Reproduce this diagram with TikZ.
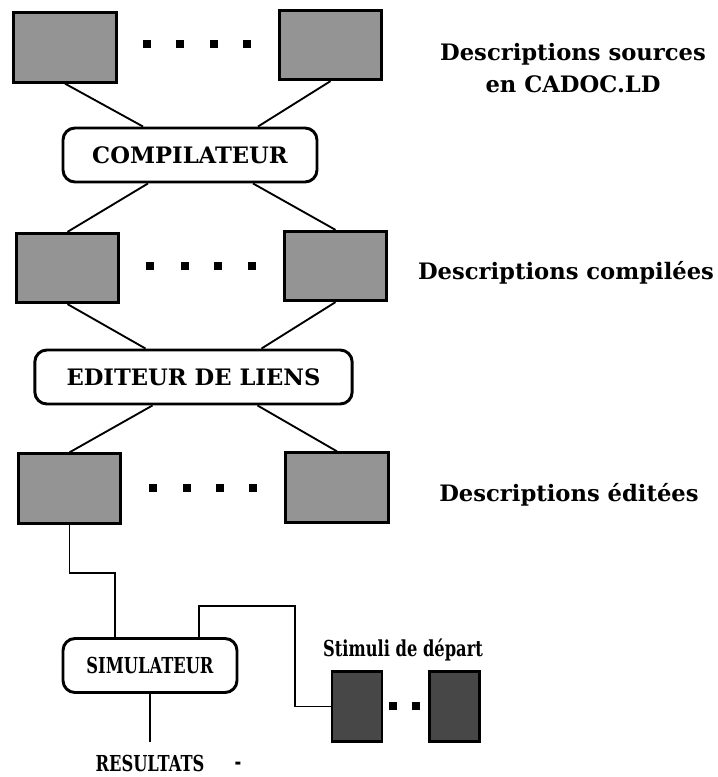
\documentclass[tikz,border=0pt]{standalone}
\usepackage{fontspec}
\setmainfont{DejaVu Serif}
\newfontfamily\narrowfont{DejaVu Serif}[FakeStretch=0.74]
\usetikzlibrary{calc}

\begin{document}
\begin{tikzpicture}[x=0.75pt, y=-0.75pt, line width=1.4pt,
  font=\fontsize{17}{24}\selectfont\bfseries,
  small/.style={font=\narrowfont\fontsize{16.5}{20}\selectfont\bfseries},
  descbox/.style={draw, line width=2.2pt, fill=black!42,
    minimum width=77pt, minimum height=52pt, inner sep=0pt},
  stimbox/.style={descbox, fill=black!72, minimum width=37.5pt},
  procbox/.style={draw, line width=2.2pt, fill=white, rounded corners=9pt,
    minimum height=40.5pt, inner sep=0pt},
  dotsq/.style={fill=black, minimum size=6.5pt, inner sep=0pt}]

  \useasboundingbox (0,0) rectangle (717,777);

  % sources CADOC.LD
  \node[descbox] (src1) at (65,47.5) {};
  \node[descbox] (src2) at (330.5,45) {};
  \foreach \x in {147,180,214,247}
    \node[dotsq] (ds\x) at (\x,44) {};
  \node[align=center] (lblsrc) at (573,68) {Descriptions sources\\en CADOC.LD};

  \node[procbox, minimum width=190.5pt] (comp) at (190,155) {COMPILATEUR};

  % descriptions compilees
  \node[descbox] (cmp1) at (67.5,268) {};
  \node[descbox] (cmp2) at (335.5,266) {};
  \foreach \x in {150,185,218,252}
    \node[dotsq] (dc\x) at (\x,266) {};
  \node (lblcmp) at (566,273) {Descriptions compilées};

  \node[procbox, minimum width=238pt] (edit) at (193.5,377) {EDITEUR DE LIENS};

  % descriptions editees
  \node[descbox] (edt1) at (69.5,488.5) {};
  \node[descbox] (edt2) at (337,487.5) {};
  \foreach \x in {153,187,220,253}
    \node[dotsq] (de\x) at (\x,488) {};
  \node (lbledt) at (569,495) {Descriptions éditées};

  \node[procbox, small, minimum width=130.5pt] (sim) at (150,665.5) {SIMULATEUR};

  % stimuli
  \node[small] (lblstim) at (403,650) {Stimuli de départ};
  \node[stimbox] (stim1) at (357,706.5) {};
  \node[stimbox] (stim2) at (454.5,706.5) {};
  \node[dotsq] (dst1) at (393,706) {};
  \node[dotsq] (dst2) at (416,706) {};

  \node[small, anchor=base, inner sep=1pt] (res) at (150,771) {RESULTATS};
  \node[small, anchor=base, inner sep=1pt] (resdash) at (238,769) {-};

  % liaisons en X
  \draw (src1.south) -- ($(comp.north)+(-47,0)$);
  \draw (src2.south) -- ($(comp.north)+(68,0)$);
  \draw ($(comp.south)+(-42,0)$) -- (cmp1.north);
  \draw ($(comp.south)+(63,0)$) -- (cmp2.north);
  \draw (cmp1.south) -- ($(edit.north)+(-48,0)$);
  \draw (cmp2.south) -- ($(edit.north)+(68,0)$);
  \draw ($(edit.south)+(-41,0)$) -- (edt1.north);
  \draw ($(edit.south)+(64,0)$) -- (edt2.north);

  % vers le simulateur
  \coordinate (bendA) at (115,573);
  \coordinate (bendB) at (295,606);
  \draw (edt1.south) |- (bendA) -- (bendA |- sim.north);
  \draw ($(sim.north)+(49,0)$) |- (bendB) |- (stim1.west);
  \draw (sim.south) -- ($(res.north)+(0,-10)$);
\end{tikzpicture}
\end{document}
